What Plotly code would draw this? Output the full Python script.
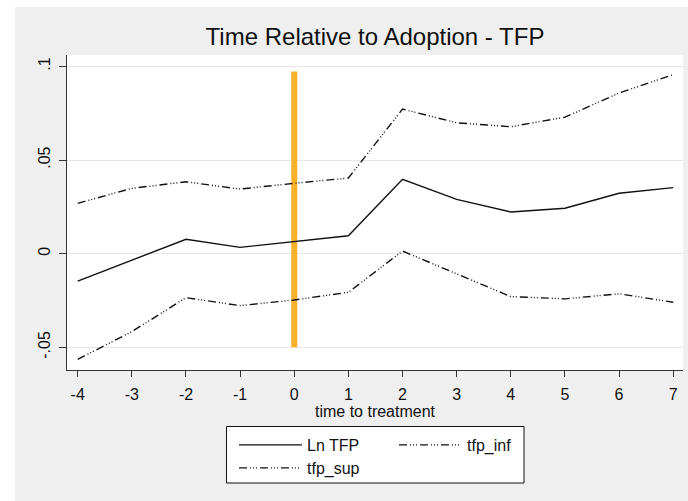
import plotly.graph_objects as go

# ---- data ----
time_to_treatment = [-4, -3, -2, -1, 0, 1, 2, 3, 4, 5, 6, 7]
ln_tfp = [-0.0146, -0.0035, 0.0077, 0.0034, 0.0064, 0.0096, 0.0397, 0.0290, 0.0223, 0.0243, 0.0323, 0.0353]
tfp_inf = [-0.0564, -0.0416, -0.0235, -0.0277, -0.0247, -0.0206, 0.0014, -0.0108, -0.0229, -0.0241, -0.0214, -0.0259]
tfp_sup = [0.0269, 0.0349, 0.0384, 0.0345, 0.0376, 0.0404, 0.0772, 0.0699, 0.0678, 0.0729, 0.0858, 0.0956]
adoption_x = [0, 0]
adoption_y = [-0.05, 0.0973]
y_tickvals = [-0.05, 0, 0.05, 0.1]
y_ticktext = ["-.05", "0", ".05", ".1"]
x_tickvals = [-4, -3, -2, -1, 0, 1, 2, 3, 4, 5, 6, 7]
x_ticktext = ["-4", "-3", "-2", "-1", "0", "1", "2", "3", "4", "5", "6", "7"]

FONT = "Liberation Sans, Arial, sans-serif"
DASH = "8px,3px,1px,2px,1px,2px,1px,3px"

fig = go.Figure()
fig.add_trace(go.Scatter(x=adoption_x, y=adoption_y, mode="lines",
                         line=dict(color="#f6b02a", width=6), showlegend=False,
                         hoverinfo="skip"))
fig.add_trace(go.Scatter(x=time_to_treatment, y=ln_tfp, mode="lines", name="Ln TFP",
                         line=dict(color="#111111", width=1.4), legend="legend"))
fig.add_trace(go.Scatter(x=time_to_treatment, y=tfp_inf, mode="lines", name="tfp_inf",
                         line=dict(color="#111111", width=1.4, dash=DASH), legend="legend"))
fig.add_trace(go.Scatter(x=time_to_treatment, y=tfp_sup, mode="lines", name="tfp_sup",
                         line=dict(color="#111111", width=1.4, dash=DASH), legend="legend2"))

W, H = 688, 501
ML, MR, MT, MB = 67, 5, 55, 131
PW, PH = W - ML - MR, H - MT - MB


def px_x(px):
    return (px - ML) / PW


def px_y(py):
    return (H - MB - py) / PH


shapes = [
    # white outer strips (left and top)
    dict(type="rect", xref="paper", yref="paper", x0=px_x(0), x1=px_x(15), y0=px_y(H + 5), y1=px_y(-5),
         fillcolor="white", line=dict(width=0), layer="below"),
    dict(type="rect", xref="paper", yref="paper", x0=px_x(0), x1=px_x(W + 5), y0=px_y(7), y1=px_y(-5),
         fillcolor="white", line=dict(width=0), layer="below"),
    # legend box
    dict(type="rect", xref="paper", yref="paper", x0=px_x(226.5), x1=px_x(524), y0=px_y(483), y1=px_y(426.5),
         fillcolor="white", line=dict(color="#111111", width=1), layer="below"),
]

legend_common = dict(orientation="h", xanchor="left", yanchor="middle",
                     bgcolor="rgba(0,0,0,0)", borderwidth=0,
                     font=dict(family=FONT, size=16, color="#111111"),
                     itemwidth=63, entrywidth=82)

fig.update_layout(
    width=W, height=H,
    margin=dict(l=ML, r=MR, t=MT, b=MB),
    paper_bgcolor="#efefef", plot_bgcolor="white",
    font=dict(family=FONT, size=16, color="#111111"),
    title=dict(text="Time Relative to Adoption - TFP", x=375 / W,
               xanchor="center", y=(H - 37) / H, yanchor="middle",
               font=dict(family=FONT, size=24, color="#111111")),
    xaxis=dict(range=[-4.198, 7.181], tickvals=x_tickvals, ticktext=x_ticktext,
               ticks="outside", ticklen=6,
               tickcolor="#333333", tickwidth=1.2, showgrid=False, zeroline=False,
               showline=True, linecolor="#333333", linewidth=1.2,
               ticklabelstandoff=4,
               tickfont=dict(family=FONT, size=16, color="#111111"),
               title=dict(text="time to treatment", standoff=1,
                          font=dict(family=FONT, size=16, color="#111111"))),
    yaxis=dict(range=[-0.0621, 0.1061], tickvals=y_tickvals, ticktext=y_ticktext,
               tickangle=-90, ticks="outside", ticklen=7, tickcolor="#333333", tickwidth=1.2,
               ticklabelstandoff=3,
               showgrid=True, gridcolor="#e6e6e6", gridwidth=1, zeroline=False,
               showline=True, linecolor="#333333", linewidth=1.2,
               tickfont=dict(family=FONT, size=16, color="#111111")),
    legend=dict(x=px_x(234), y=px_y(445), **legend_common),
    legend2=dict(x=px_x(234), y=px_y(468), **legend_common),
    shapes=shapes,
    showlegend=True,
)

fig.write_html("out.html")
